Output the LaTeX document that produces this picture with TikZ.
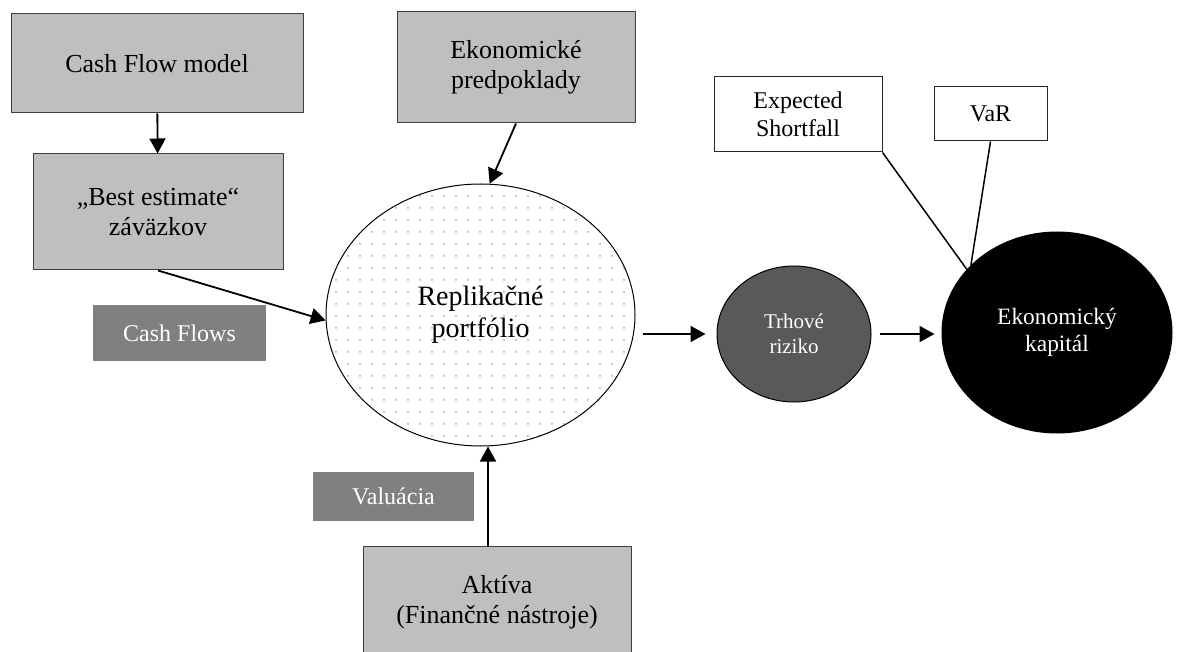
\documentclass[tikz,border=0pt]{standalone}
\usepackage{fontspec}
\setmainfont{Liberation Serif}
\usetikzlibrary{arrows.meta,patterns.meta,shapes.geometric}

\begin{document}
\begin{tikzpicture}[x=0.5pt, y=-0.5pt,
    box/.style={draw=black!75, fill=black!25, line width=0.5pt, inner sep=0pt, align=center, font=\fontsize{13}{15}\selectfont},
    tag/.style={fill=black!50, text=white, inner sep=0pt, font=\fontsize{12}{14}\selectfont},
    note/.style={draw=black!85, fill=white, line width=0.5pt, inner sep=0pt, align=center, font=\fontsize{12}{14}\selectfont},
    blob/.style={ellipse, draw, line width=0.5pt, inner sep=0pt, align=center},
    arr/.style={-{Triangle[length=7.5pt,width=8pt]}, line width=0.9pt}]
    \clip (0,0) rectangle (1178,652);
    % vstupy
    \node[box, minimum width=146pt, minimum height=49.5pt] (cfm) at (157,63.5) {Cash Flow model};
    \node[box, minimum width=125pt, minimum height=58pt] (best) at (158,212) {„Best estimate“\\záväzkov};
    \node[box, minimum width=119pt, minimum height=55.5pt] (pred) at (516,67.5) {Ekonomické\\predpoklady};
    \node[box, minimum width=134pt, minimum height=56pt] (akt) at (497,602) {Aktíva\\(Finančné nástroje)};
    \node[tag, minimum width=86.5pt, minimum height=28pt] (cfl) at (179.5,333) {Cash Flows};
    \node[tag, minimum width=80.5pt, minimum height=24.5pt] (val) at (393.5,496.5) {Valuácia};
    % portfolio a riziko
    \node[blob, pattern={Dots[distance=6pt, radius=0.5pt]}, pattern color=black!35,
        minimum width=154.5pt, minimum height=131pt, font=\fontsize{14}{16}\selectfont] (rep) at (480.5,315) {Replikačné\\portfólio};
    \node[blob, fill=black!65, text=white, minimum width=77pt, minimum height=68pt,
        font=\fontsize{10.5}{12.5}\selectfont] (trh) at (794,334) {Trhové\\riziko};
    \node[blob, fill=black, text=white, minimum width=115pt, minimum height=100.5pt,
        font=\fontsize{11.7}{13.7}\selectfont] (kap) at (1057,332.5) {Ekonomický\\kapitál};
    \node[note, minimum width=84pt, minimum height=37.5pt] (es) at (798,114.5) {Expected\\Shortfall};
    \node[note, minimum width=56.5pt, minimum height=27pt] (var) at (990.5,114) {VaR};
    % spojnice
    \draw[arr] (cfm) -- (best);
    \draw[arr] (best.south) -- (rep.182);
    \draw[arr] (pred.south) -- (rep.86);
    \draw[arr] ([xshift=-4.5pt]akt.north) -- ([xshift=-4.5pt]akt.north |- rep.south);
    \draw[arr, shorten <=3.5pt, shorten >=5.5pt] (rep.east |- trh.west) -- (trh.west);
    \draw[arr, shorten <=4pt, shorten >=3.5pt] (trh.east) -- (kap.west |- trh.east);
    \draw[line width=0.75pt] (es.south east) -- (kap.145);
    \draw[line width=0.75pt] (var.south) -- (kap.142);
\end{tikzpicture}
\end{document}
